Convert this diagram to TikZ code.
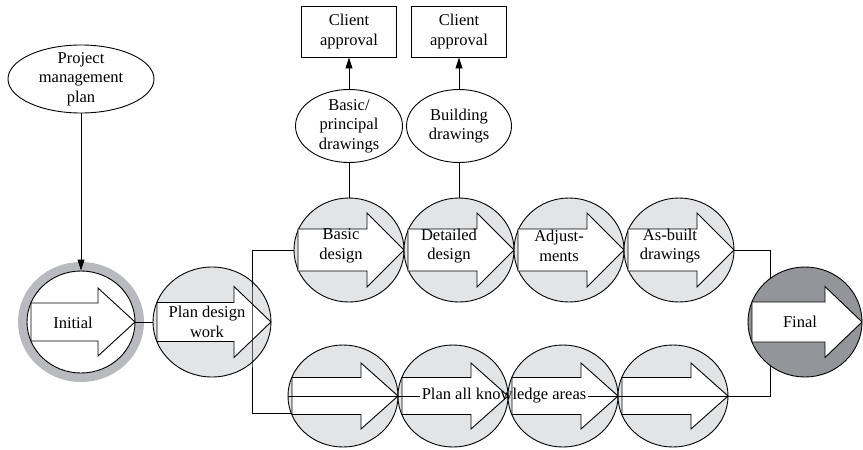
\documentclass[tikz,border=0pt]{standalone}
\usepackage{fontspec}
\setmainfont{Liberation Serif}
\usepackage{tikz}
\usetikzlibrary{arrows.meta,positioning,shapes.geometric}
\definecolor{stagefill}{RGB}{227,228,230}
\definecolor{ringgray}{RGB}{185,186,189}
\definecolor{finalfill}{RGB}{147,149,152}

% block arrow across a stage: centre x, centre y, half width of the stage,
% half height of the shaft, half height of the head
\newcommand{\stagearrow}[5]{%
  \draw[fill=white] ({#1-#3+4},{#2-#4}) -- ({#1+#3-37},{#2-#4}) -- ({#1+#3-37},{#2-#5})
    -- ({#1+#3},#2) -- ({#1+#3-37},{#2+#5}) -- ({#1+#3-37},{#2+#4})
    -- ({#1-#3+4},{#2+#4}) -- cycle;}

\begin{document}
\begin{tikzpicture}[x=1pt, y=-1pt, line width=0.9pt,
    every node/.style={font=\fontsize{16.5}{19.5}\selectfont, align=center, inner sep=1pt},
    stage/.style={ellipse, draw, fill=stagefill, inner sep=0pt},
    pill/.style={ellipse, draw, fill=white, inner sep=0pt},
    approval/.style={rectangle, draw, minimum width=95, minimum height=51, inner sep=0pt},
    tip/.style={-{Triangle[length=11pt,width=7pt]}}]
  \useasboundingbox (0,0) rectangle (863,450);

  % start and planning stages
  \draw[ringgray, line width=9pt] (81,322) ellipse (58.5 and 55.5);
  \node[pill, minimum width=108, minimum height=102] (init) at (81,322) {};
  \node[stage, minimum width=118, minimum height=110] (plan) at (212,322) {};
  \stagearrow{81}{322}{54}{19}{34}
  \stagearrow{212}{322}{59}{19.5}{35.5}
  \node (inittxt) at (73,323) {Initial};
  \node (plantxt) at (207,322) {Plan design\\work};

  % design stages (top) and knowledge areas (bottom)
  \foreach \cx/\nm in {349/basic,459/detail,569/adjust,679/asb} {
    \node[stage, minimum width=110, minimum height=104] (\nm) at (\cx,250) {};
  }
  \foreach \cx/\nm in {343/kn1,453/kn2,563/kn3,673/kn4} {
    \node[stage, minimum width=110, minimum height=102] (\nm) at (\cx,396) {};
  }
  \foreach \cx in {349,459,569,679} {
    \stagearrow{\cx}{250}{55}{21}{37}
  }
  \foreach \cx in {343,453,563,673} {
    \stagearrow{\cx}{396}{55}{18.5}{33}
  }
  \node (basictxt) at (341,246) {Basic\\design};
  \node (detailtxt) at (449,246) {Detailed\\design};
  \node (adjusttxt) at (559,246) {Adjust-\\ments};
  \node (asbtxt) at (670,246) {As-built\\drawings};
  \node (lbl) at (504,396) {Plan all knowledge areas};

  % drawings and approvals
  \node[pill, minimum width=146, minimum height=68] (pmp) at (81,79) {};
  \node (pmptxt) at (pmp) {Project\\management\\plan};
  \node[pill, minimum width=107, minimum height=73] (bpd) at (349,126) {};
  \node (bpdtxt) at (bpd) {Basic/\\principal\\drawings};
  \node[pill, minimum width=105, minimum height=73] (bld) at (459,126) {};
  \node (bldtxt) at (bld) {Building\\drawings};
  \node[approval] (ca1) at (349,31.5) {Client\\approval};
  \node[approval] (ca2) at (459,31.5) {Client\\approval};

  % connectors
  \coordinate (fork) at (252,322);
  \coordinate (join) at (770,322);
  \draw[tip] (pmp.south) -- (init.north);
  \draw (init.east) -- (plan.west);
  \draw (basic.west) -| (fork) |- (kn1.199);
  \draw (basic.north) -- (bpd.south);
  \draw[tip] (bpd.north) -- (ca1.south);
  \draw (detail.north) -- (bld.south);
  \draw[tip] (bld.north) -- (ca2.south);
  \draw (kn1.west) -- (lbl.west);
  \draw (asb.east) -| (join) |- (lbl.east);

  % final stage
  \node[stage, fill=finalfill, minimum width=114, minimum height=110] (final) at (805,322) {};
  \stagearrow{805}{322}{57}{20}{35.5}
  \node (finaltxt) at (800,322) {Final};
\end{tikzpicture}
\end{document}
